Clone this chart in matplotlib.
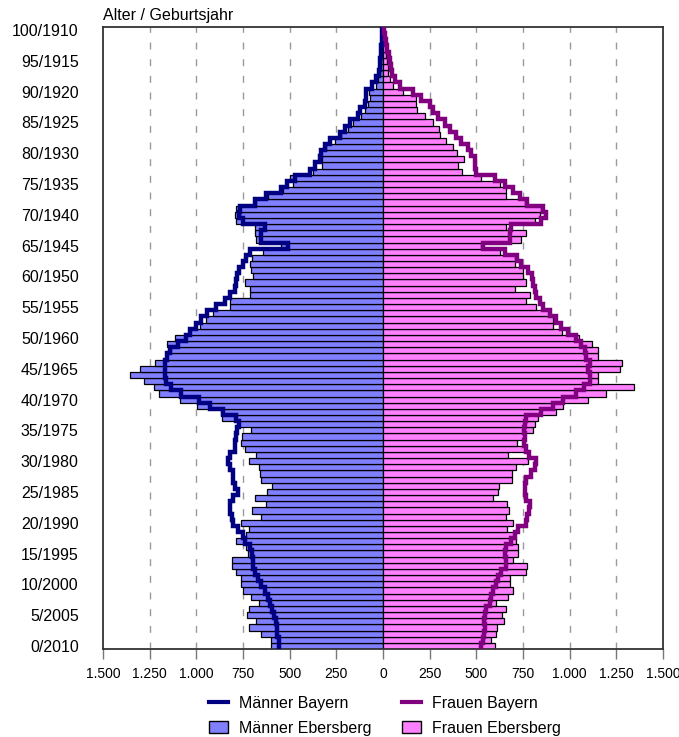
import numpy as np
import matplotlib
matplotlib.use('Agg')
import matplotlib.pyplot as plt
from matplotlib.ticker import FuncFormatter
from matplotlib.lines import Line2D
from matplotlib.patches import Patch

plt.rcParams['font.family'] = ['Liberation Sans', 'DejaVu Sans']

# ── Data (age 0 .. 100) ─────────────────────────────────────────────────────
ages = np.arange(0, 101)

maenner_ebersberg = [
    598, 598, 655, 718, 682, 727, 718, 664, 709, 750,
    763, 763, 789, 807, 807, 723, 732, 786, 732, 718,
    759, 652, 700, 629, 684, 620, 595, 652, 660, 664,
    718, 679, 738, 759, 754, 709, 777, 861, 866, 997,
    1086, 1202, 1229, 1282, 1354, 1300, 1223, 1165, 1134, 1156,
    1116, 1040, 982, 950, 911, 822, 822, 714, 714, 741,
    696, 705, 714, 700, 643, 545, 679, 688, 688, 786,
    795, 786, 680, 616, 536, 482, 496, 375, 325, 325,
    330, 304, 259, 223, 188, 161, 116, 98, 80, 68,
    75, 40, 25, 18, 14, 12, 10, 8, 5, 3,
    2,
]

maenner_bayern = [
    559, 559, 566, 568, 571, 584, 593, 604, 616, 634,
    652, 670, 688, 696, 696, 700, 714, 741, 750, 777,
    804, 807, 818, 822, 804, 777, 795, 804, 804, 822,
    830, 822, 795, 795, 786, 782, 771, 786, 857, 929,
    986, 1081, 1134, 1161, 1170, 1170, 1170, 1155, 1140, 1098,
    1054, 1036, 1000, 975, 943, 893, 848, 822, 795, 789,
    782, 771, 750, 732, 714, 509, 652, 652, 634, 750,
    771, 768, 688, 625, 545, 516, 470, 390, 366, 339,
    330, 313, 286, 232, 205, 179, 134, 125, 98, 89,
    89, 57, 39, 22, 17, 14, 11, 9, 7, 5,
    3,
]

frauen_ebersberg = [
    598, 577, 607, 611, 646, 638, 661, 607, 670, 696,
    679, 679, 768, 771, 696, 723, 723, 711, 705, 664,
    696, 661, 675, 664, 589, 616, 622, 693, 693, 714,
    777, 670, 768, 718, 754, 804, 813, 830, 929, 964,
    1098, 1193, 1343, 1152, 1152, 1272, 1282, 1152, 1152, 1120,
    1048, 961, 911, 911, 893, 822, 768, 786, 705, 768,
    750, 750, 705, 705, 625, 527, 741, 768, 661, 813,
    839, 848, 759, 661, 661, 625, 527, 425, 402, 432,
    396, 375, 339, 304, 300, 268, 227, 182, 179, 179,
    107, 54, 36, 27, 25, 21, 18, 14, 10, 6,
    3,
]

frauen_bayern = [
    527, 536, 539, 545, 539, 545, 554, 571, 580, 589,
    607, 616, 634, 657, 657, 652, 657, 688, 705, 723,
    768, 771, 782, 786, 768, 763, 759, 768, 795, 813,
    818, 782, 768, 754, 759, 754, 763, 768, 848, 911,
    964, 1036, 1075, 1107, 1111, 1098, 1107, 1089, 1080, 1063,
    1036, 991, 955, 929, 893, 857, 839, 822, 813, 804,
    800, 777, 741, 718, 652, 536, 679, 679, 688, 848,
    875, 857, 773, 732, 696, 652, 598, 500, 491, 491,
    473, 455, 420, 393, 357, 330, 295, 268, 250, 205,
    161, 90, 62, 50, 42, 36, 30, 22, 15, 10,
    6,
]

x_ticks = np.arange(-1500, 1501, 250)
y_ticks = np.arange(0, 101, 5)
y_labels = [f"{a}/{2010 - a}" for a in y_ticks]

# ── Figure ──────────────────────────────────────────────────────────────────
fig = plt.figure(figsize=(6.79, 7.37), dpi=100)
ax = fig.add_axes([103 / 679, 1 - 649 / 737, 560 / 679, 622 / 737])

# dashed grid (not at 0 / frame)
for v in x_ticks:
    if v != 0 and abs(v) != 1500:
        ax.axvline(v, color='#9a9a9a', lw=1.0, ls=(0, (5, 7)), zorder=0)

ax.barh(ages, -np.array(maenner_ebersberg), height=1.0, color='#8080ff',
        edgecolor='black', linewidth=0.9, zorder=2)
ax.barh(ages, frauen_ebersberg, height=1.0, color='#ff80ff',
        edgecolor='black', linewidth=0.9, zorder=2)

edges = np.arange(-0.5, 101.5, 1.0)
ax.stairs(-np.array(maenner_bayern), edges, orientation='horizontal', baseline=None,
          color='#000080', lw=3.2, zorder=3)
ax.stairs(frauen_bayern, edges, orientation='horizontal', baseline=None,
          color='#800080', lw=3.2, zorder=3)

ax.set_xlim(-1500, 1500)
ax.set_ylim(-0.5, 100.5)
ax.set_xticks(x_ticks)
ax.xaxis.set_major_formatter(FuncFormatter(lambda v, p: f"{abs(int(v)):,}".replace(",", ".")))
ax.set_yticks(y_ticks)
ax.set_yticklabels(y_labels)
ax.tick_params(axis='y', length=0, pad=17.5, labelsize=11.5)
ax.tick_params(axis='x', length=7, width=1, color='#777777', pad=6, labelsize=10)
for s in ax.spines.values():
    s.set_color('#333333')
    s.set_linewidth(1.3)

ax.text(0.0, 1.006, "Alter / Geburtsjahr", transform=ax.transAxes,
        ha='left', va='bottom', fontsize=11.5)

handles = [
    Line2D([], [], color='#000080', lw=3),
    Patch(facecolor='#8080ff', edgecolor='black', lw=1),
    Line2D([], [], color='#800080', lw=3),
    Patch(facecolor='#ff80ff', edgecolor='black', lw=1),
]
labels = ['Männer Bayern', 'Männer Ebersberg', 'Frauen Bayern', 'Frauen Ebersberg']
fig.legend(handles, labels, loc='center', bbox_to_anchor=(0.567, 0.029), ncol=2,
           frameon=False, fontsize=11.5, handlelength=1.2, handleheight=0.8,
           columnspacing=1.9, labelspacing=0.62, handletextpad=0.7)

fig.savefig('out.png', dpi=100)
